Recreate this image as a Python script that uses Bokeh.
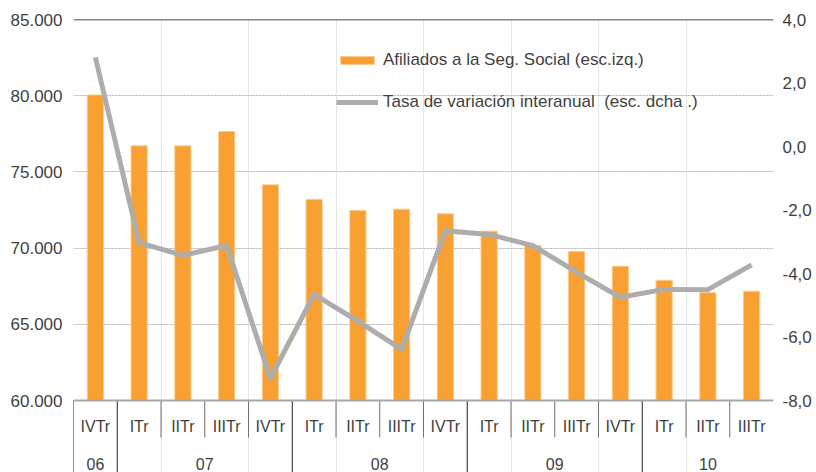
from bokeh.plotting import figure
from bokeh.models import (Range1d, LinearAxis, FixedTicker, Grid, Span, Legend,
                          LegendItem)
from bokeh.core.properties import value
from bokeh.embed import file_html
from bokeh.resources import INLINE

# ---------------- data ----------------
quarters = ["IVTr", "ITr", "IITr", "IIITr", "IVTr", "ITr", "IITr", "IIITr",
            "IVTr", "ITr", "IITr", "IIITr", "IVTr", "ITr", "IITr", "IIITr"]
years = ["06", "07", "07", "07", "07", "08", "08", "08", "08",
         "09", "09", "09", "09", "10", "10", "10"]
afiliados = [80050, 76710, 76710, 77650, 74150, 73190, 72470, 72550,
             72250, 71110, 70170, 69780, 68810, 67890, 67070, 67170]
tasa = [2.81, -3.03, -3.43, -3.12, -7.30, -4.66, -5.50, -6.39,
        -2.65, -2.77, -3.12, -3.96, -4.75, -4.50, -4.51, -3.73]

left_ticks = [60000, 65000, 70000, 75000, 80000, 85000]
left_labels = ["60.000", "65.000", "70.000", "75.000", "80.000", "85.000"]
right_ticks = [-8, -6, -4, -2, 0, 2, 4]
right_labels = ["-8,0", "-6,0", "-4,0", "-2,0", "0,0", "2,0", "4,0"]

label_bar = "Afiliados a la Seg. Social (esc.izq.)"
label_line = "Tasa de variación interanual  (esc. dcha .)"

# ---------------- layout constants ----------------
W, H = 816, 472
TOP = 19
LEFT = 73
RIGHT = 43
AXIS_PX = 381       # pixels from top value to bottom value
TABLE_PX = 72       # table height below the value axis
FRAME_H = H - TOP

FONT = "Liberation Sans"
TXT = "#3f3f3f"
ORANGE = "#F9A032"
GREY = "#ADADAD"

lo, hi = left_ticks[0], left_ticks[-1]
rlo, rhi = right_ticks[0], right_ticks[-1]
y_start = lo - TABLE_PX * (hi - lo) / AXIS_PX
r_start = rlo - TABLE_PX * (rhi - rlo) / AXIS_PX

n = len(quarters)
xs = [i + 0.5 for i in range(n)]

p = figure(width=W, height=H, output_backend="svg", toolbar_location=None,
           x_range=Range1d(0, n), y_range=Range1d(y_start, hi),
           x_axis_location=None, y_axis_location=None,
           min_border_left=LEFT, min_border_right=RIGHT,
           min_border_top=TOP, min_border_bottom=0)
p.outline_line_color = None
p.background_fill_color = "white"
p.extra_y_ranges = {"pct": Range1d(r_start, rhi), "tbl": Range1d(0, FRAME_H)}

# grid
grid = Grid(dimension=1, ticker=FixedTicker(ticks=left_ticks[1:-1]),
            grid_line_color="#9a9a9a", grid_line_dash="1 2", grid_line_width=1)
p.add_layout(grid)

# axes
lax = LinearAxis(ticker=FixedTicker(ticks=left_ticks),
                 major_label_overrides={t: s for t, s in zip(left_ticks, left_labels)},
                 bounds=(lo, hi), axis_line_color=None,
                 major_tick_line_color=None, minor_tick_line_color=None,
                 major_tick_in=0, major_tick_out=0, major_label_standoff=11,
                 major_label_text_font=FONT, major_label_text_font_size="17px",
                 major_label_text_color=TXT)
p.add_layout(lax, "left")
rax = LinearAxis(y_range_name="pct", ticker=FixedTicker(ticks=right_ticks),
                 major_label_overrides={t: s for t, s in zip(right_ticks, right_labels)},
                 bounds=(rlo, rhi), axis_line_color=None,
                 major_tick_line_color=None, minor_tick_line_color=None,
                 major_tick_in=0, major_tick_out=0, major_label_standoff=9,
                 major_label_text_font=FONT, major_label_text_font_size="17px",
                 major_label_text_color=TXT)
p.add_layout(rax, "right")

# bars
bars = p.vbar(x=xs, width=0.37, bottom=lo, top=afiliados,
              fill_color=ORANGE, line_color="#FBCB8E", line_width=1)
# line
ln = p.line(x=xs, y=tasa, y_range_name="pct", line_color=GREY,
            line_width=5, line_join="round")

# top and bottom frame lines
p.add_layout(Span(location=hi, dimension="width", line_color="#111111", line_width=1.5))
p.add_layout(Span(location=lo, dimension="width", line_color="#a8a8a8", line_width=2))

# category table below axis
T_TOP = TABLE_PX
short_x, long_x = [], []
for i in range(n):
    if i == 0 or years[i] != years[i - 1]:
        long_x.append(i)
    else:
        short_x.append(i)
p.segment(x0=short_x, x1=short_x, y0=[T_TOP] * len(short_x), y1=[T_TOP - 37] * len(short_x),
          y_range_name="tbl", line_color="#707070", line_width=1)
p.segment(x0=long_x, x1=long_x, y0=[T_TOP] * len(long_x), y1=[0] * len(long_x),
          y_range_name="tbl", line_color="#222222", line_width=1)
p.text(x=xs, y=[T_TOP - 26] * n, text=quarters, y_range_name="tbl",
       text_align="center", text_baseline="middle", text_font=value(FONT),
       text_font_size=value("16px"), text_color=TXT)

groups = []
for i, yv in enumerate(years):
    if groups and groups[-1][0] == yv:
        groups[-1][2] = i + 1
    else:
        groups.append([yv, i, i + 1])
gx = [(g[1] + g[2]) / 2 for g in groups]
gl = [g[0] for g in groups]
p.text(x=gx, y=[9] * len(gx), text=gl, y_range_name="tbl",
       text_align="center", text_baseline="middle", text_font=value(FONT),
       text_font_size=value("16px"), text_color=TXT)

# legend
legend = Legend(items=[LegendItem(label=label_bar, renderers=[bars]),
                       LegendItem(label=label_line, renderers=[ln])],
                location=(263, FRAME_H - 93), orientation="vertical",
                glyph_width=42, glyph_height=10, label_height=20,
                label_standoff=5, spacing=22, padding=0, margin=0,
                border_line_color=None, background_fill_alpha=0,
                label_text_font=FONT, label_text_font_size="17px",
                label_text_color=TXT)
p.add_layout(legend)

open("out.html", "w").write(file_html(p, INLINE))
